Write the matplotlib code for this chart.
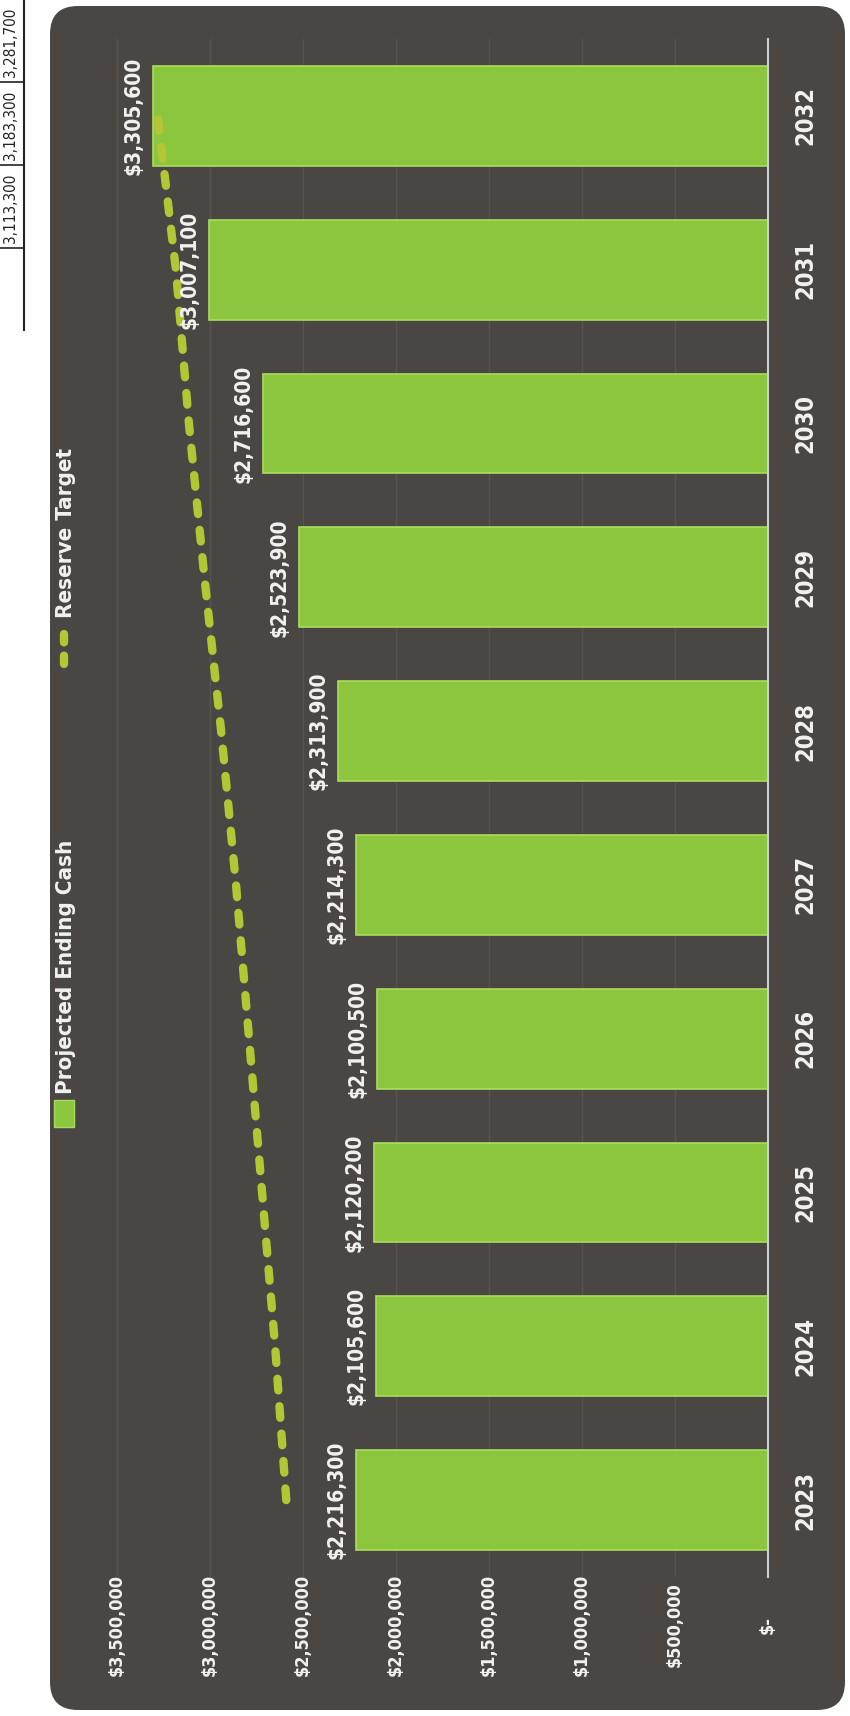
import matplotlib.pyplot as plt
import matplotlib.transforms as mtransforms
from matplotlib.patches import FancyBboxPatch, Rectangle
from matplotlib import font_manager

# data
years = ['2023', '2024', '2025', '2026', '2027', '2028', '2029', '2030', '2031', '2032']
ending_cash = [2216300, 2105600, 2120200, 2100500, 2214300, 2313900, 2523900, 2716600, 3007100, 3305600]
reserve_target = [2590000, 2650000, 2720000, 2790000, 2860000, 2940000, 3030000, 3113300, 3183300, 3281700]
tick_values = [0, 500000, 1000000, 1500000, 2000000, 2500000, 3000000, 3500000]
tick_labels = ['$-', '$500,000', '$1,000,000', '$1,500,000', '$2,000,000', '$2,500,000', '$3,000,000', '$3,500,000']
table_bits = ['3,281,700', '3,183,300', '3,113,300']

names = set(f.name for f in font_manager.fontManager.ttflist)
if 'Liberation Sans Narrow' in names:
    plt.rcParams['font.family'] = ['Liberation Sans Narrow', 'DejaVu Sans']
else:
    plt.rcParams['font.family'] = ['DejaVu Sans']
    plt.rcParams['font.stretch'] = 'condensed'

W, H = 850, 1716
panel_col = '#4a4643'
txt_col = '#f2f2f2'
bar_col = '#8cc63f'
line_col = '#b4c634'

fig = plt.figure(figsize=(W / 100, H / 100), dpi=100)
fig.patch.set_facecolor('white')

# background axes in pixel units
bg = fig.add_axes([0, 0, 1, 1])
bg.set_xlim(0, W)
bg.set_ylim(H, 0)
bg.axis('off')
bg.add_patch(FancyBboxPatch((50, 6), 795, 1704, boxstyle='round,pad=0,rounding_size=28',
                            facecolor=panel_col, edgecolor='none'))

# scrap of the table on the page edge
bg.plot([24, 24], [0, 330], color='#222222', lw=1.5)
for yy in [82, 165, 248]:
    bg.plot([0, 24], [yy, yy], color='#222222', lw=1.2)
for i, s in enumerate(table_bits):
    bg.text(11, 42 + i * 83, s, rotation=90, ha='center', va='center', fontsize=11, color='#222222')

# legend
bg.add_patch(Rectangle((54, 1100), 20, 27, facecolor=bar_col, edgecolor='#a9dc5c', lw=1))
bg.text(66, 1094, 'Projected Ending Cash', rotation=90, ha='center', va='bottom',
        fontsize=16, fontweight='bold', color=txt_col)
bg.plot([64, 64], [664, 628], color=line_col, lw=6, ls=(0, (1.0, 1.6)), dash_capstyle='round')
bg.text(66, 618, 'Reserve Target', rotation=90, ha='center', va='bottom',
        fontsize=16, fontweight='bold', color=txt_col)

# main chart, drawn sideways
ax = fig.add_axes([100 / W, (H - 1577) / H, 668 / W, 1538 / H])
ax.patch.set_alpha(0)
y = list(range(len(years)))
ax.barh(y, ending_cash, height=0.65, color=bar_col, edgecolor='#a9dc5c', lw=1.2, zorder=2)
ax.plot(reserve_target, y, color=line_col, lw=6, ls=(0, (1.4, 1.9)), dash_capstyle='round', zorder=3)

ax.set_xlim((768 - 100) / 186 * 1e6, 0)
ax.set_ylim(-0.5, len(years) - 0.5)
for v in tick_values[1:]:
    ax.axvline(v, color='#57534f', lw=1, zorder=1)
for s in ['top', 'left', 'bottom']:
    ax.spines[s].set_visible(False)
ax.spines['right'].set_color('#cfcfcf')
ax.spines['right'].set_linewidth(1.5)
ax.set_xticks([])
ax.set_yticks([])

for yi, v in zip(y, ending_cash):
    ax.annotate(f'${v:,}', (v, yi), xytext=(-14, 0), textcoords='offset points', rotation=90,
                ha='center', va='center', fontsize=15, fontweight='bold', color=txt_col, zorder=4)

tr_x = mtransforms.blended_transform_factory(ax.transData, ax.transAxes)
for v, s in zip(tick_values, tick_labels):
    ax.text(v, -(1625 - 1577) / 1538, s, transform=tr_x, rotation=90, ha='center', va='center',
            fontsize=13, fontweight='bold', color=txt_col, clip_on=False)

tr_y = mtransforms.blended_transform_factory(ax.transAxes, ax.transData)
for yi, s in zip(y, years):
    ax.text((805 - 100) / 668, yi, s, transform=tr_y, rotation=90, ha='center', va='center',
            fontsize=17, fontweight='bold', color=txt_col, clip_on=False)

fig.savefig('out.png', dpi=100, facecolor='white')
